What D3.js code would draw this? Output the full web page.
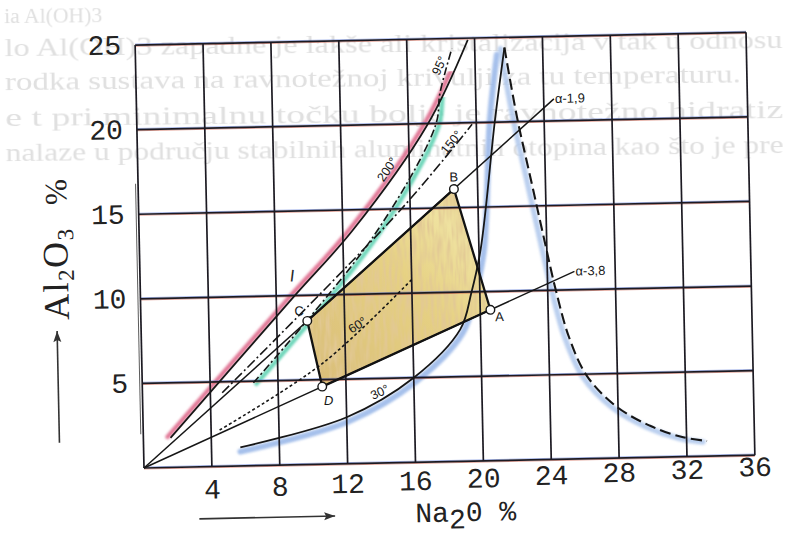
<!DOCTYPE html>
<html>
<head>
<meta charset="utf-8">
<script src="https://cdn.jsdelivr.net/npm/d3@7"></script>
<style>
  html, body { margin: 0; padding: 0; background: #fff; }
  svg { display: block; }
</style>
</head>
<body>
<svg id="chart" width="789" height="544"></svg>
<script>
// ---- Axes ----
const naTicks = [4, 8, 12, 16, 20, 24, 28, 32, 36];
const alTicks = [5, 10, 15, 20, 25];

// ---- Isotherms, points as [Na2O %, Al2O3 %] ----
const iso200 = [[1.6, 1.75], [9.0, 9.9], [12.6, 13.8], [17.1, 19.9], [19.6, 24.9]];
const iso150 = [[4.7, 4.35], [15.4, 14.9], [19.75, 19.9]];
const iso95  = [[6.55, 4.9], [13.8, 13.4], [17.6, 19.9], [17.9, 21.8], [18.65, 24.4]];
const iso60  = [[4.5, 2.15], [10.7, 6.0], [16.1, 10.9]];
const iso30  = [[5.7, 1.1], [12.0, 2.75], [16.0, 5.0], [18.8, 7.8], [19.5, 9.95], [20.1, 12.5], [21.1, 20.1], [21.75, 24.4]];
// descending branch from the peak
const branch = [[21.75, 24.4], [22.4, 20.3], [23.2, 16.3], [23.9, 12.8], [24.5, 9.9], [25.2, 7.2], [26.2, 4.9], [27.9, 3.05], [29.9, 1.85], [31.8, 1.15], [33.2, 0.9]];
// blue shading beside the 30° curve
const iso30Shade = [[5.7, 0.85], [12.1, 2.5], [16.1, 4.75], [18.95, 7.6], [19.75, 9.95], [20.3, 12.5], [20.8, 20.1], [21.3, 24.0]];

// ---- Caustic ratio lines ----
const alphaValues = [1.9, 3.8];
const alphaLabels = ["α-1,9", "α-3,8"];
const alphaEnds = [24.6, 25.6];          // Na2O % where each line stops
const molarRatio = 102 / 62;             // Al2O3 / Na2O molar masses

// ---- Cycle A-B-C-D ----
const cycleNames = ["A", "B", "C", "D"];
const cycleNa = [20.6, 18.6, 9.8, 10.6];
const cycleAl = [8.92, 16.1, 8.49, 4.59];

// ---- Text showing through from the other side of the page ----
const backLines = [
  "ia Al(OH)3",
  "lo Al(OH)3 zapadne je lakše ali kristalizacija v tak u odnosu",
  "rodka sustava na ravnotežnoj krivulji za tu temperaturu.",
  "e  t  pri  minimalnu  točku  bolje  je  ravnotežno  hidratiz",
  "nalaze u području stabilnih aluminatnih otopina kao što je pre"
];
const backLineWidths = [98, 778, 736, 778, 778];

// ---- Plot frame ----
const W = 611, H = 423;
const originX = 144, originY = 468, tilt = -1.2;

const x = d3.scaleLinear().domain([0, 36]).range([0, W]);
const y = d3.scaleLinear().domain([0, 25]).range([0, -H]);

const svg = d3.select("#chart");
const defs = svg.append("defs");

// pencil texture for the shaded cycle area
const f = defs.append("filter").attr("id", "pencil")
  .attr("x", "-5%").attr("y", "-5%").attr("width", "110%").attr("height", "110%");
f.append("feTurbulence").attr("type", "fractalNoise")
  .attr("baseFrequency", "0.3 0.04").attr("numOctaves", 2).attr("seed", 7).attr("result", "n");
f.append("feColorMatrix").attr("in", "n").attr("type", "matrix")
  .attr("values", "0 0 0 0 0.76  0 0 0 0 0.58  0 0 0 0 0.30  0 0 0 2.6 -1.0")
  .attr("result", "streak");
f.append("feComposite").attr("in", "streak").attr("in2", "SourceGraphic").attr("operator", "in").attr("result", "s2");
const fm = f.append("feMerge");
fm.append("feMergeNode").attr("in", "SourceGraphic");
fm.append("feMergeNode").attr("in", "s2");

const soft = defs.append("filter").attr("id", "soft");
soft.append("feGaussianBlur").attr("stdDeviation", 0.8);
const faint = defs.append("filter").attr("id", "faint");
faint.append("feGaussianBlur").attr("stdDeviation", 0.7);

const grad = defs.append("linearGradient").attr("id", "cycleFill")
  .attr("x1", "0").attr("y1", "1").attr("x2", "1").attr("y2", "0");
grad.append("stop").attr("offset", "0").attr("stop-color", "#d9bd78");
grad.append("stop").attr("offset", "0.55").attr("stop-color", "#e6d183");
grad.append("stop").attr("offset", "0.8").attr("stop-color", "#efe2a0");
grad.append("stop").attr("offset", "1").attr("stop-color", "#e2c98a");

// clip windows for the coloured bands
defs.append("clipPath").attr("id", "clipPink").append("rect")
  .attr("x", -20).attr("y", y(23)).attr("width", W + 40).attr("height", H);
defs.append("clipPath").attr("id", "clipGreen").append("rect")
  .attr("x", -20).attr("y", y(21.6)).attr("width", W + 40).attr("height", H);

// faint print from the reverse side of the sheet
const back = svg.append("g").attr("transform", "rotate(-0.6,400,90)")
  .attr("filter", "url(#faint)");
back.selectAll("text").data(backLines).join("text")
  .attr("x", 5).attr("y", (d, i) => [19, 52, 86, 122, 157][i])
  .attr("textLength", (d, i) => backLineWidths[i]).attr("lengthAdjust", "spacingAndGlyphs")
  .attr("font-family", "Liberation Serif, Times New Roman, serif")
  .attr("font-size", (d, i) => i === 0 ? 20 : 26)
  .attr("fill", "#e0e0e0").text(d => d);

const g = svg.append("g").attr("transform", `translate(${originX},${originY}) rotate(${tilt})`);

const line = d3.line().x(d => x(d[0])).y(d => y(d[1])).curve(d3.curveCatmullRom.alpha(0.5));

// ---- coloured pencil bands ----
g.append("path").attr("d", line(iso200)).attr("clip-path", "url(#clipPink)")
  .attr("transform", "translate(-3,-1)")
  .attr("fill", "none").attr("stroke", "#de6a8c").attr("stroke-width", 4.5)
  .attr("stroke-linecap", "round").attr("opacity", 0.9).attr("filter", "url(#soft)");
g.append("path").attr("d", line(iso95)).attr("clip-path", "url(#clipGreen)")
  .attr("transform", "translate(3,1)")
  .attr("fill", "none").attr("stroke", "#5ed2b2").attr("stroke-width", 4.5)
  .attr("stroke-linecap", "round").attr("opacity", 0.9).attr("filter", "url(#soft)");
g.append("path").attr("d", line(iso30Shade))
  .attr("fill", "none").attr("stroke", "#8fb0e6").attr("stroke-width", 6)
  .attr("stroke-linecap", "round").attr("opacity", 0.8).attr("filter", "url(#soft)");
g.append("path").attr("d", line(branch)).attr("transform", "translate(-4,1)")
  .attr("fill", "none").attr("stroke", "#afc7ec").attr("stroke-width", 5.5)
  .attr("stroke-linecap", "round").attr("opacity", 0.85).attr("filter", "url(#soft)");

// ---- cycle area ----
const cycle = cycleNa.map((v, i) => [v, cycleAl[i]]);
const poly = d3.line().x(d => x(d[0])).y(d => y(d[1]));
g.append("path").attr("d", poly(cycle) + "Z")
  .attr("fill", "url(#cycleFill)").attr("filter", "url(#pencil)");

// ---- grid ----
const gridColor = "#1c1a22";
const hLines = [0].concat(alTicks);
const vLines = [0].concat(naTicks);
g.selectAll("line.hr").data(hLines).join("line").attr("class", "hr")
  .attr("x1", x(0)).attr("x2", x(36)).attr("y1", d => y(d) + 1.1).attr("y2", d => y(d) + 1.1)
  .attr("stroke", "#c8503a").attr("stroke-width", 1).attr("opacity", 0.55);
g.selectAll("line.hb").data(hLines).join("line").attr("class", "hb")
  .attr("x1", x(0)).attr("x2", x(36)).attr("y1", d => y(d) - 1.1).attr("y2", d => y(d) - 1.1)
  .attr("stroke", "#3a5ed0").attr("stroke-width", 1).attr("opacity", 0.45);
g.selectAll("line.h").data(hLines).join("line").attr("class", "h")
  .attr("x1", x(0)).attr("x2", x(36)).attr("y1", d => y(d)).attr("y2", d => y(d))
  .attr("stroke", gridColor).attr("stroke-width", 1.7);
g.selectAll("line.v").data(vLines).join("line").attr("class", "v")
  .attr("x1", d => x(d)).attr("x2", d => x(d)).attr("y1", y(0)).attr("y2", y(25))
  .attr("stroke", gridColor).attr("stroke-width", 1.7);
// second pen stroke along part of the left axis
g.append("line").attr("x1", -2.5).attr("x2", -2.5).attr("y1", y(2)).attr("y2", y(16.8))
  .attr("stroke", "#333").attr("stroke-width", 1).attr("opacity", 0.8);

// ---- isotherm lines ----
const ink = "#161616";
g.append("path").attr("d", line(iso200)).attr("fill", "none")
  .attr("stroke", ink).attr("stroke-width", 1.7);
g.append("path").attr("d", line(iso95)).attr("fill", "none")
  .attr("stroke", ink).attr("stroke-width", 1.6).attr("stroke-dasharray", "8,3,2,3");
g.append("path").attr("d", line(iso150)).attr("fill", "none")
  .attr("stroke", ink).attr("stroke-width", 1.6).attr("stroke-dasharray", "10,3,2,3");
g.append("path").attr("d", line(iso60)).attr("fill", "none")
  .attr("stroke", ink).attr("stroke-width", 1.6).attr("stroke-dasharray", "3,2.5");
g.append("path").attr("d", line(iso30)).attr("fill", "none")
  .attr("stroke", ink).attr("stroke-width", 1.8);
g.append("path").attr("d", line(branch)).attr("fill", "none")
  .attr("stroke", ink).attr("stroke-width", 2.1).attr("stroke-dasharray", "11,5");

// ---- caustic ratio lines from the origin ----
alphaValues.forEach((a, i) => {
  const k = molarRatio / a;
  g.append("line")
    .attr("x1", x(0)).attr("y1", y(0))
    .attr("x2", x(alphaEnds[i])).attr("y2", y(alphaEnds[i] * k))
    .attr("stroke", ink).attr("stroke-width", 1.5);
  g.append("text")
    .attr("x", x(alphaEnds[i]) + 1).attr("y", y(alphaEnds[i] * k) + 4)
    .attr("font-family", "Liberation Sans, Arial, sans-serif").attr("font-size", 13)
    .attr("fill", ink).text(alphaLabels[i]);
});

// ---- cycle outline and corner points ----
g.append("path").attr("d", poly(cycle) + "Z").attr("fill", "none")
  .attr("stroke", "#121212").attr("stroke-width", 2.3).attr("stroke-linejoin", "round");
g.selectAll("circle.pt").data(cycle).join("circle").attr("class", "pt")
  .attr("cx", d => x(d[0])).attr("cy", d => y(d[1])).attr("r", 4.3)
  .attr("fill", "#fff").attr("stroke", ink).attr("stroke-width", 1.4);
const nameOffsets = [[9, 8], [0, -11], [-8, -9], [6, 15]];
g.selectAll("text.pt").data(cycle).join("text").attr("class", "pt")
  .attr("x", (d, i) => x(d[0]) + nameOffsets[i][0])
  .attr("y", (d, i) => y(d[1]) + nameOffsets[i][1])
  .attr("text-anchor", "middle").attr("dominant-baseline", "middle")
  .attr("font-family", "Liberation Sans, Arial, sans-serif").attr("font-size", 13)
  .attr("font-style", (d, i) => i === 3 ? "italic" : "normal")
  .attr("fill", ink).text((d, i) => cycleNames[i]);

// ---- isotherm names ----
const isoNames = [
  { t: "95°", at: [17.94, 23.39], r: -65 },
  { t: "200°", at: [14.74, 17.31], r: -55 },
  { t: "150°", at: [18.55, 18.83], r: -50 },
  { t: "60°", at: [12.78, 8.13], r: -32 },
  { t: "30°", at: [14.0, 4.14], r: -24 }
];
g.selectAll("text.iso").data(isoNames).join("text").attr("class", "iso")
  .attr("transform", d => `translate(${x(d.at[0])},${y(d.at[1])}) rotate(${d.r})`)
  .attr("text-anchor", "middle").attr("dominant-baseline", "middle")
  .attr("font-family", "Liberation Sans, Arial, sans-serif").attr("font-size", 12.5)
  .attr("fill", ink).text(d => d.t);

// region mark
g.append("text").attr("transform", `translate(${x(8.96)},${y(11.1)}) rotate(8)`)
  .attr("text-anchor", "middle").attr("dominant-baseline", "middle")
  .attr("font-family", "Liberation Sans, Arial, sans-serif").attr("font-size", 17)
  .attr("font-weight", 300).attr("fill", "#2a2a2a").text("I");

// ---- tick labels ----
const mono = "Liberation Mono, Courier New, monospace";
const xLabelDrop = d3.scaleLinear().domain([4, 36]).range([32, 21]);
g.selectAll("text.xt").data(naTicks).join("text").attr("class", "xt")
  .attr("x", d => x(d)).attr("y", d => xLabelDrop(d))
  .attr("text-anchor", "middle").attr("font-family", mono).attr("font-size", 28)
  .attr("fill", "#222").text(d => d);
g.selectAll("text.yt").data(alTicks).join("text").attr("class", "yt")
  .attr("x", -14).attr("y", d => y(d) + 9)
  .attr("text-anchor", "end").attr("font-family", mono).attr("font-size", 28)
  .attr("fill", "#222").text(d => d);

// ---- axis titles with arrows ----
const xt = g.append("text").attr("x", x(18.9)).attr("y", 60)
  .attr("text-anchor", "middle").attr("font-family", mono).attr("font-size", 28).attr("fill", "#222");
xt.append("tspan").text("Na");
xt.append("tspan").attr("dy", 7).text("2");
xt.append("tspan").attr("dy", -7).text("0 %");
g.append("line").attr("x1", x(3.2)).attr("x2", x(11.2)).attr("y1", 52).attr("y2", 52)
  .attr("stroke", "#333").attr("stroke-width", 1.6);
g.append("path").attr("d", `M${x(11.2)},52 l-11,-4 l2,4 l-2,4 Z`).attr("fill", "#333");

const serif = "Liberation Serif, Times New Roman, serif";
const yt = g.append("text").attr("transform", `translate(-72,${y(8.85)}) rotate(-90)`)
  .attr("font-family", serif).attr("font-size", 36).attr("letter-spacing", 1.5).attr("fill", "#222");
yt.append("tspan").text("Al");
yt.append("tspan").attr("font-size", 23).attr("dy", 6).text("2");
yt.append("tspan").attr("dy", -6).text("O");
yt.append("tspan").attr("font-size", 23).attr("dy", 6).text("3");
g.append("text").attr("transform", `translate(-72,${y(15.65)}) rotate(-90)`)
  .attr("font-family", serif).attr("font-size", 31).attr("fill", "#222").text("%");
g.append("line").attr("x1", -84).attr("x2", -84).attr("y1", y(1.6)).attr("y2", y(8.2))
  .attr("stroke", "#333").attr("stroke-width", 1.6);
g.append("path").attr("d", `M-84,${y(8.2)} l-4,11 l4,-2 l4,2 Z`).attr("fill", "#333");
</script>
</body>
</html>
